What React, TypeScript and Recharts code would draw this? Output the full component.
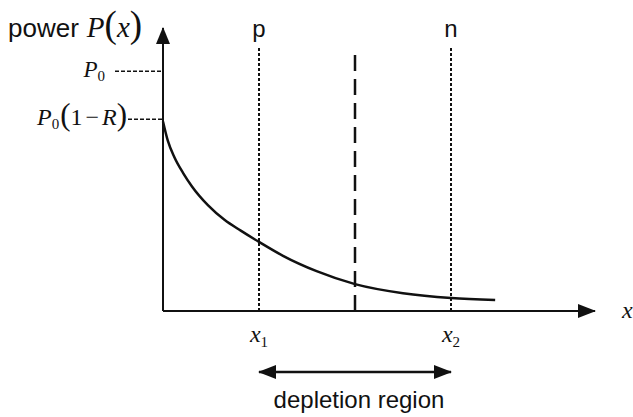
import { LineChart, Line, XAxis, YAxis, ReferenceLine, ReferenceDot } from "recharts";

// optical power P(x) inside the diode, depth in units of the p-edge distance
const depth = [0, 0.05, 0.12, 0.21, 0.3, 0.47, 0.64, 0.81, 1.0, 1.25, 1.6, 2.0, 2.5, 3.0, 3.46];
const power = [0.79, 0.71, 0.64, 0.575, 0.52, 0.44, 0.38, 0.335, 0.288, 0.23, 0.166, 0.112, 0.074, 0.054, 0.046];

const powerTicks = [0.8, 1]; // P0(1-R), P0
const edgeTicks = [1, 3]; // x1, x2
const junction = 2;
const guideTop = 1.1;
const depletionLevel = -0.254;
const xMax = 4.5;
const yMax = 1.18;

const data = depth.map((x, i) => ({ x, power: power[i] }));

const INK = "#111";
const SERIF = "'Liberation Serif', 'DejaVu Serif', serif";
const SANS = "'Liberation Sans', Arial, sans-serif";

function PowerTick(props: any) {
  const { x, y, payload } = props;
  if (payload.value === 1) {
    return (
      <g>
        <line x1={x - 48} x2={x} y1={y} y2={y} stroke={INK} strokeWidth={1.5} strokeDasharray="4 2" />
        <text x={x - 58} y={y + 6} textAnchor="end" fontFamily={SERIF} fontSize={23} fill={INK}>
          <tspan fontStyle="italic">P</tspan>
          <tspan fontSize={15} dy={4}>0</tspan>
        </text>
      </g>
    );
  }
  return (
    <g>
      <line x1={x - 35} x2={x} y1={y} y2={y} stroke={INK} strokeWidth={1.5} strokeDasharray="4 2" />
      <text x={x - 36} y={y + 6} textAnchor="end" fontFamily={SERIF} fontSize={24} fill={INK}>
        <tspan fontStyle="italic">P</tspan>
        <tspan fontSize={15} dy={4}>0</tspan>
        <tspan fontSize={31} dy={-4} dx={1}>(</tspan>
        <tspan>1</tspan>
        <tspan dx={3}>−</tspan>
        <tspan dx={3} fontStyle="italic">R</tspan>
        <tspan fontSize={31}>)</tspan>
      </text>
    </g>
  );
}

function EdgeTick(props: any) {
  const { x, y, payload } = props;
  return (
    <text x={x} y={y + 31} textAnchor="middle" fontFamily={SERIF} fontSize={24} fill={INK}>
      <tspan fontStyle="italic">x</tspan>
      <tspan fontSize={15} dy={5}>{payload.value === 1 ? "1" : "2"}</tspan>
    </text>
  );
}

const arrowRight = (props: any) => (
  <path d={`M${props.cx + 1},${props.cy} L${props.cx - 17},${props.cy - 7} L${props.cx - 17},${props.cy + 7} Z`} fill={INK} />
);
const arrowLeft = (props: any) => (
  <path d={`M${props.cx - 1},${props.cy} L${props.cx + 17},${props.cy - 7} L${props.cx + 17},${props.cy + 7} Z`} fill={INK} />
);
const arrowUp = (props: any) => (
  <path d={`M${props.cx},${props.cy - 1} L${props.cx - 7},${props.cy + 16} L${props.cx + 7},${props.cy + 16} Z`} fill={INK} />
);

const guideLabel = (text: string) => (props: any) => {
  const vb = props.viewBox;
  return (
    <text x={vb.x} y={vb.y - 10} textAnchor="middle" fontFamily={SANS} fontSize={24} fill={INK}>
      {text}
    </text>
  );
};

const depletionLabel = (props: any) => {
  const vb = props.viewBox;
  return (
    <text x={vb.x + vb.width / 2 + 4} y={vb.y + 36} textAnchor="middle" fontFamily={SANS} fontSize={24} fill={INK}>
      depletion region
    </text>
  );
};

const powerAxisLabel = (props: any) => {
  const vb = props.viewBox;
  return (
    <text x={8} y={vb.y + 9} fill={INK}>
      <tspan fontFamily={SANS} fontSize={26}>power</tspan>
      <tspan dx={8} fontFamily={SERIF} fontStyle="italic" fontSize={29}>P</tspan>
      <tspan fontFamily={SERIF} fontSize={37}>(</tspan>
      <tspan fontFamily={SERIF} fontStyle="italic" fontSize={29}>x</tspan>
      <tspan fontFamily={SERIF} fontSize={37}>)</tspan>
    </text>
  );
};

const depthAxisLabel = (props: any) => {
  const vb = props.viewBox;
  return (
    <text x={vb.x + vb.width + 27} y={vb.y + 7} fontFamily={SERIF} fontStyle="italic" fontSize={24} fill={INK}>
      x
    </text>
  );
};

export default function App() {
  return (
    <div style={{ position: "absolute", left: 0, top: 0, width: 633, height: 417, background: "#fff" }}>
      <LineChart width={633} height={417} data={data} margin={{ top: 28, right: 38, bottom: 76, left: 103 }}>
        <XAxis
          type="number"
          dataKey="x"
          domain={[0, xMax]}
          ticks={edgeTicks}
          tick={EdgeTick}
          tickLine={false}
          tickSize={0}
          tickMargin={0}
          height={30}
          axisLine={{ stroke: INK, strokeWidth: 2 }}
          label={depthAxisLabel}
        />
        <YAxis
          type="number"
          domain={[0, yMax]}
          ticks={powerTicks}
          tick={PowerTick}
          tickLine={false}
          tickSize={0}
          tickMargin={0}
          width={60}
          axisLine={{ stroke: INK, strokeWidth: 2 }}
          label={powerAxisLabel}
        />
        <ReferenceLine
          segment={[{ x: edgeTicks[0], y: 0 }, { x: edgeTicks[0], y: guideTop }]}
          stroke={INK}
          strokeWidth={2}
          strokeDasharray="3 2"
          label={guideLabel("p")}
        />
        <ReferenceLine
          segment={[{ x: junction, y: 0 }, { x: junction, y: guideTop }]}
          stroke={INK}
          strokeWidth={2.5}
          strokeDasharray="16 8"
        />
        <ReferenceLine
          segment={[{ x: edgeTicks[1], y: 0 }, { x: edgeTicks[1], y: guideTop }]}
          stroke={INK}
          strokeWidth={2}
          strokeDasharray="3 2"
          label={guideLabel("n")}
        />
        <ReferenceLine
          segment={[{ x: edgeTicks[0], y: depletionLevel }, { x: edgeTicks[1], y: depletionLevel }]}
          stroke={INK}
          strokeWidth={2.5}
          ifOverflow="visible"
          label={depletionLabel}
        />
        <ReferenceDot x={edgeTicks[0]} y={depletionLevel} ifOverflow="visible" shape={arrowLeft} />
        <ReferenceDot x={edgeTicks[1]} y={depletionLevel} ifOverflow="visible" shape={arrowRight} />
        <ReferenceDot x={xMax} y={0} ifOverflow="visible" shape={arrowRight} />
        <ReferenceDot x={0} y={yMax} ifOverflow="visible" shape={arrowUp} />
        <Line
          type="monotone"
          dataKey="power"
          stroke={INK}
          strokeWidth={2.5}
          dot={false}
          isAnimationActive={false}
        />
      </LineChart>
    </div>
  );
}
